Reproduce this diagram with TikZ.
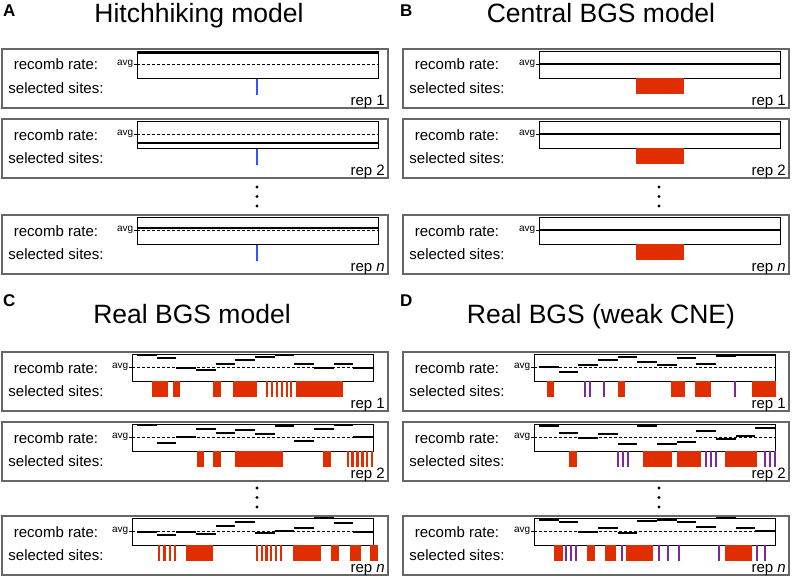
\documentclass[tikz,border=0pt]{standalone}
\usepackage{fontspec}
\setmainfont{Liberation Sans}

\definecolor{bgsred}{RGB}{224,46,0}
\definecolor{hhblue}{RGB}{51,85,255}
\definecolor{cnepurple}{RGB}{128,38,150}

\tikzset{
  outerbox/.style={draw=black!60, line width=1.1pt},
  innerbox/.style={draw=black, line width=0.9pt},
  avgline/.style={dashed, dash pattern=on 3pt off 2pt, line width=0.7pt},
  rateline/.style={line width=2pt},
  rowlabel/.style={anchor=base, inner sep=0pt, font=\fontsize{15}{18}\selectfont},
  replabel/.style={anchor=base east, inner sep=0pt, font=\fontsize{15}{18}\selectfont},
  avglabel/.style={anchor=east, inner sep=0.5pt, font=\fontsize{10}{12}\selectfont},
  paneltitle/.style={anchor=base, inner sep=0pt, font=\fontsize{26.5}{30}\selectfont},
  panelletter/.style={anchor=base west, inner sep=0pt, font=\fontsize{17}{20}\selectfont\bfseries},
}

% one replicate: name, x0, y0, inner left, rep number
\newcommand{\repframe}[5]{%
  \draw[outerbox] (#2,#3) rectangle ++(386,59);
  \draw[innerbox] (#4,#3+2) rectangle ++(241,27);
  \draw[avgline] (#4,#3+15) -- ++(241,0);
  \draw[line width=0.7pt] (#4-3,#3+15) -- ++(3,0);
  \node[avglabel] (#1-avg) at (#4-3,#3+15) {avg};
  \node[rowlabel] (#1-rate) at (#2+54,#3+21) {recomb rate:};
  \node[rowlabel] (#1-sites) at (#2+54,#3+44) {selected sites:};
  \node[replabel] (#1-rep) at (#2+383,#3+56) {rep #5};
}
% recombination steps: inner left, y0, offsets from avg
\newcommand{\ratesteps}[3]{%
  \foreach \dy [count=\i from 0] in {#3}
    \draw[rateline] ({#1+5+\i*19.67},{#2+15+(\dy)}) -- ++(19.67,0);
}
% selected sites: colour, top, a/b pairs
\newcommand{\siteblocks}[3]{%
  \foreach \a/\b in {#3} \fill[#1] (\a,#2) rectangle (\b,#2+16);
}
% thin sites: colour, top, width, x list
\newcommand{\sitebars}[4]{%
  \foreach \x in {#4} \fill[#1] (\x,#2) rectangle ++(#3,16);
}
\newcommand{\repdots}[2]{%
  \foreach \d in {0,9.5,19} \fill ({#1},{#2+\d}) circle (1.6pt);
}

\begin{document}
\begin{tikzpicture}[x=1pt,y=-1pt]
\useasboundingbox (0,0) rectangle (792,578);

% titles
\node[panelletter] (labA) at (3,17) {A};
\node[paneltitle] (titleA) at (199,23) {Hitchhiking model};
\node[panelletter] (labB) at (400,17) {B};
\node[paneltitle] (titleB) at (601,23) {Central BGS model};
\node[panelletter] (labC) at (3,306) {C};
\node[paneltitle] (titleC) at (192,323) {Real BGS model};
\node[panelletter] (labD) at (400,306) {D};
\node[paneltitle] (titleD) at (601,323) {Real BGS (weak CNE)};

% A: hitchhiking
\repframe{A1}{2}{49}{137}{1}
\draw[rateline] (137,53) -- ++(241,0);
\fill[hhblue] (256,78.5) rectangle ++(2.4,16.5);
\repframe{A2}{2}{119}{137}{2}
\draw[rateline] (137,143) -- ++(241,0);
\fill[hhblue] (256,148.5) rectangle ++(2.4,16.5);
\repdots{257}{187}
\repframe{An}{2}{215}{137}{\textit{n}}
\draw[rateline] (137,228) -- ++(241,0);
\fill[hhblue] (256,244.5) rectangle ++(2.4,16.5);

% B: central BGS
\repframe{B1}{403}{49}{539}{1}
\draw[rateline] (539,64) -- ++(241,0);
\fill[bgsred] (636,78) rectangle ++(48,16);
\repframe{B2}{403}{119}{539}{2}
\draw[rateline] (539,134) -- ++(241,0);
\fill[bgsred] (636,148) rectangle ++(48,16);
\repdots{659}{187}
\repframe{Bn}{403}{215}{539}{\textit{n}}
\draw[rateline] (539,230) -- ++(241,0);
\fill[bgsred] (636,244) rectangle ++(48,16);

% C: real BGS
\repframe{C1}{2}{352}{132}{1}
\ratesteps{132}{352}{-12,-9,1,3,-3,-7,-10,-12,-3,1,-3,1}
\siteblocks{bgsred}{381}{152/168,173/180,213/221,233/257,296/343}
\sitebars{bgsred}{381}{2.3}{265.5,270.5,275.5,280.5,285.5,290}
\repframe{C2}{2}{422}{132}{2}
\ratesteps{132}{422}{-12,6,0,-8,-4,-7,-3,-11,4,-8,-12,0}
\siteblocks{bgsred}{451}{197/204,213/221,235/283,323/331}
\sitebars{bgsred}{451}{2.3}{346.5,351.4,356.3,361.2,366.1,371}
\repdots{257}{488}
\repframe{Cn}{2}{516}{132}{\textit{n}}
\ratesteps{132}{516}{1,4,1,3,-5,-9,2,0,-3,-13,-8,1}
\siteblocks{bgsred}{545}{186/213,293/321,331/339,350/361,370/378}
\sitebars{bgsred}{545}{2.3}{158,163.3,168.6,174,256,260.7,265.4,270.1,274.8,279.5}

% D: real BGS, weak CNE
\repframe{D1}{403}{352}{534}{1}
\ratesteps{534}{352}{0,5,-2,-7,-10,-5,-2,-9,-3,-11,-12,-12}
\siteblocks{bgsred}{381}{547/554,618/625,671/685,695/711,752/776}
\sitebars{cnepurple}{381}{2}{583.5,588.5,602.5,733.5}
\repframe{D2}{403}{422}{534}{2}
\ratesteps{534}{422}{-11,-4,1,-3,7,-11,7,5,-6,2,-1,-9}
\siteblocks{bgsred}{451}{569/577,643/672,677/701,725/757}
\sitebars{cnepurple}{451}{2}{617,622,627,705,710,715,764,769,774}
\repdots{659}{488}
\repframe{Dn}{403}{516}{534}{\textit{n}}
\ratesteps{534}{516}{-11,-9,1,-3,2,-10,-11,-9,-4,-13,-3,0}
\siteblocks{bgsred}{545}{554/563,587/595,605/616,626/653,725/752}
\sitebars{cnepurple}{545}{2}{565,570,575,621,658,667,678,718,756,764}
\end{tikzpicture}
\end{document}
